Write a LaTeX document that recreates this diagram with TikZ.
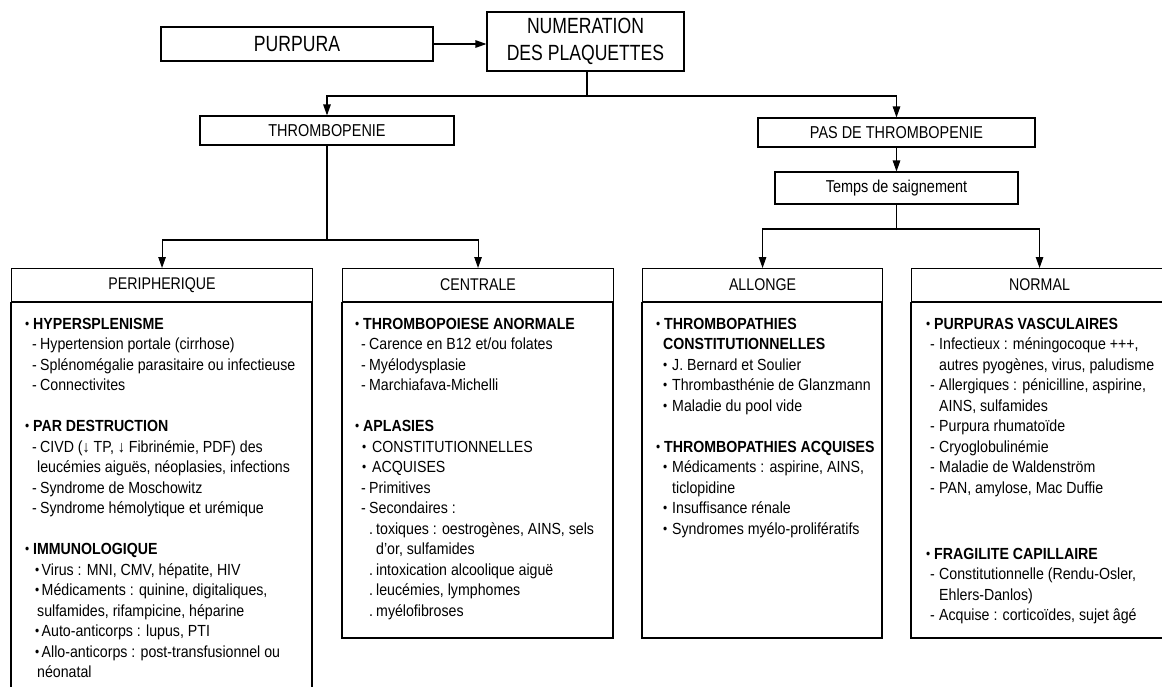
\documentclass[tikz,border=0pt]{standalone}
\usepackage{fontspec}
\setmainfont[FakeStretch=0.88]{Liberation Sans}
\newfontfamily\hdrfont[FakeStretch=0.84]{Liberation Sans}
\newfontfamily\topfont[FakeStretch=0.80]{Liberation Sans}
\usetikzlibrary{arrows.meta}
\newcommand\Bul{\raisebox{1pt}{\fontsize{13.5}{13.5}\selectfont •}}
\newcommand\LiH[1]{\makebox[8pt][l]{\Bul}\textbf{#1}}
\newcommand\LiX[4]{\hspace*{#1pt}\makebox[#3pt][l]{#2}#4}
\newcommand\BodyTxt[1]{\parbox[t]{400pt}{\raggedright\fontsize{16.1}{20.5}\selectfont #1}}
\tikzset{
  ln/.style={line width=1.1pt},
  box/.style={draw, ln, inner sep=0pt, align=center, font=\hdrfont\fontsize{17.2}{19}\selectfont},
  bigbox/.style={draw, ln, inner sep=0pt, align=center, font=\topfont\fontsize{22}{27}\selectfont},
  hdr/.style={draw, ln, inner sep=0pt, anchor=north west, minimum height=33pt, font=\hdrfont\fontsize{16.9}{19}\selectfont},
  arr/.style={ln, -{Triangle[length=11pt,width=7.5pt]}},
  txt/.style={anchor=base west, inner sep=0pt}
}
\begin{document}
\begin{tikzpicture}[x=1pt,y=-1pt]
\useasboundingbox (0,0) rectangle (1162,686);
\fill[white] (0,0) rectangle (1162,686);
\clip (0,0) rectangle (1162,686);

% top nodes
\node[bigbox, minimum width=272pt, minimum height=34pt] (purpura) at (297,44) {PURPURA};
\node[bigbox, minimum width=197pt, minimum height=59pt] (numer) at (585.5,41.5) {NUMERATION\\DES PLAQUETTES};
\node[box, minimum width=254pt, minimum height=29pt] (thromb) at (327,130.5) {THROMBOPENIE};
\node[box, minimum width=277pt, minimum height=29pt] (pas) at (896.5,132.5) {PAS DE THROMBOPENIE};
\node[box, minimum width=243pt, minimum height=32pt] (temps) at (896.5,188) {Temps de saignement};

% headers of the four columns
\node[hdr, minimum width=301pt] (peri) at (11,268) {PERIPHERIQUE};
\node[hdr, minimum width=271pt] (cent) at (342,268) {CENTRALE};
\node[hdr, minimum width=240pt] (allo) at (642,268) {ALLONGE};
\node[hdr, minimum width=256pt] (norm) at (911,268) {NORMAL};

% bodies
\draw[ln] (peri.south west) rectangle (312,705);
\draw[ln] (cent.south west) rectangle (613,638);
\draw[ln] (allo.south west) rectangle (882,638);
\draw[ln] (norm.south west) rectangle (1167,638);

% connectors
\coordinate (j1) at (587,96);
\coordinate (j2) at (327,240);
\coordinate (j3) at (896.5,229);
\draw[arr] (purpura.east) -- (purpura.east -| numer.west);
\draw[ln] (numer.south -| j1) -- (j1);
\draw[arr] (j1) -| (thromb.north);
\draw[arr] (j1) -| (pas.north);
\draw[ln] (thromb.south) -- (j2);
\draw[arr] (j2) -| (peri.north);
\draw[arr] (j2) -| (cent.north);
\draw[arr] (pas.south) -- (temps.north);
\draw[ln] (temps.south) -- (j3);
\draw[arr] (j3) -| (allo.north);
\draw[arr] (j3) -| (norm.north);

% texts
\node[txt] (peritxt) at (25,329) {\BodyTxt{%
\LiH{HYPERSPLENISME}\\
\LiX{7}{-}{8}{Hypertension portale (cirrhose)}\\
\LiX{7}{-}{8}{Splénomégalie parasitaire ou infectieuse}\\
\LiX{7}{-}{8}{Connectivites}\\[20.5pt]
\LiH{PAR DESTRUCTION}\\
\LiX{7}{-}{8}{CIVD (↓ TP, ↓ Fibrinémie, PDF) des}\\
\LiX{12}{}{0}{leucémies aiguës, néoplasies, infections}\\
\LiX{7}{-}{8}{Syndrome de Moschowitz}\\
\LiX{7}{-}{8}{Syndrome hémolytique et urémique}\\[20.5pt]
\LiH{IMMUNOLOGIQUE}\\
\LiX{10}{\Bul}{6.5}{Virus : MNI, CMV, hépatite, HIV}\\
\LiX{10}{\Bul}{6.5}{Médicaments : quinine, digitaliques,}\\
\LiX{12}{}{0}{sulfamides, rifampicine, héparine}\\
\LiX{10}{\Bul}{6.5}{Auto-anticorps : lupus, PTI}\\
\LiX{10}{\Bul}{6.5}{Allo-anticorps : post-transfusionnel ou}\\
\LiX{12}{}{0}{néonatal}}};

\node[txt] (centtxt) at (355,329) {\BodyTxt{%
\LiH{THROMBOPOIESE ANORMALE}\\
\LiX{6}{-}{8}{Carence en B12 et/ou folates}\\
\LiX{6}{-}{8}{Myélodysplasie}\\
\LiX{6}{-}{8}{Marchiafava-Michelli}\\[20.5pt]
\LiH{APLASIES}\\
\LiX{7}{\Bul}{10}{CONSTITUTIONNELLES}\\
\LiX{7}{\Bul}{10}{ACQUISES}\\
\LiX{6}{-}{8}{Primitives}\\
\LiX{6}{-}{8}{Secondaires :}\\
\LiX{14}{.}{7}{toxiques : oestrogènes, AINS, sels}\\
\LiX{21}{}{0}{d’or, sulfamides}\\
\LiX{14}{.}{7}{intoxication alcoolique aiguë}\\
\LiX{14}{.}{7}{leucémies, lymphomes}\\
\LiX{14}{.}{7}{myélofibroses}}};

\node[txt] (allotxt) at (656,329) {\BodyTxt{%
\LiH{THROMBOPATHIES}\\
\LiX{7}{}{0}{\textbf{CONSTITUTIONNELLES}}\\
\LiX{7}{\Bul}{9}{J. Bernard et Soulier}\\
\LiX{7}{\Bul}{9}{Thrombasthénie de Glanzmann}\\
\LiX{7}{\Bul}{9}{Maladie du pool vide}\\[20.5pt]
\LiH{THROMBOPATHIES ACQUISES}\\
\LiX{7}{\Bul}{9}{Médicaments : aspirine, AINS,}\\
\LiX{16}{}{0}{ticlopidine}\\
\LiX{7}{\Bul}{9}{Insuffisance rénale}\\
\LiX{7}{\Bul}{9}{Syndromes myélo-prolifératifs}}};

\node[txt] (normtxt) at (926,329) {\BodyTxt{%
\LiH{PURPURAS VASCULAIRES}\\
\LiX{4}{-}{9}{Infectieux : méningocoque +++,}\\
\LiX{13}{}{0}{autres pyogènes, virus, paludisme}\\
\LiX{4}{-}{9}{Allergiques : pénicilline, aspirine,}\\
\LiX{13}{}{0}{AINS, sulfamides}\\
\LiX{4}{-}{9}{Purpura rhumatoïde}\\
\LiX{4}{-}{9}{Cryoglobulinémie}\\
\LiX{4}{-}{9}{Maladie de Waldenström}\\
\LiX{4}{-}{9}{PAN, amylose, Mac Duffie}\\[45.5pt]
\LiH{FRAGILITE CAPILLAIRE}\\
\LiX{4}{-}{9}{Constitutionnelle (Rendu-Osler,}\\
\LiX{13}{}{0}{Ehlers-Danlos)}\\
\LiX{4}{-}{9}{Acquise : corticoïdes, sujet âgé}}};
\end{tikzpicture}
\end{document}
